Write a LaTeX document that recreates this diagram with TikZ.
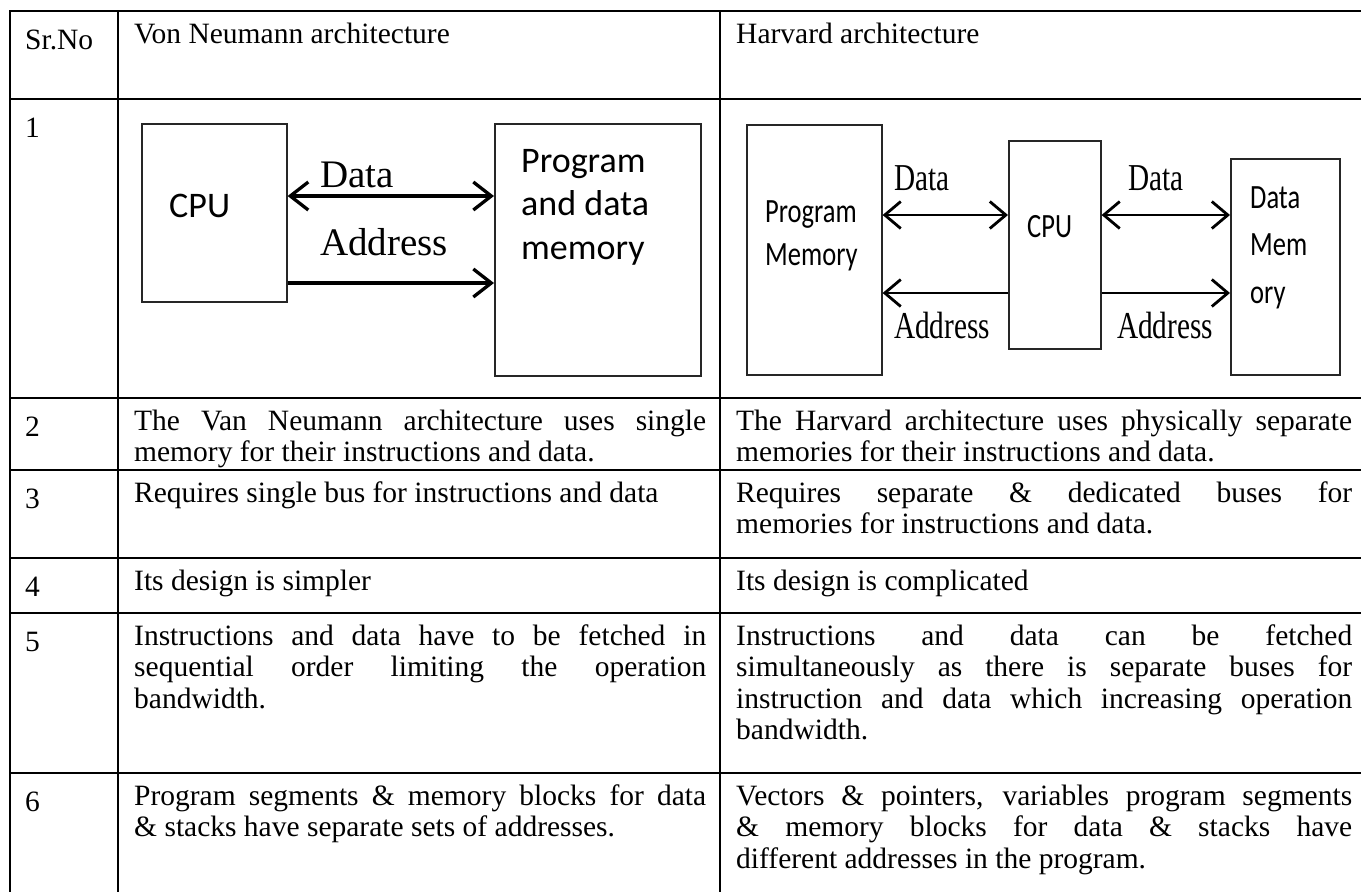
\documentclass[tikz,border=0pt]{standalone}
\usepackage{fontspec}
\setmainfont{Liberation Serif}
\newfontfamily\labelserif{Liberation Serif}
\newfontfamily\narrowserif{Liberation Serif}[FakeStretch=0.77]
\newfontfamily\boxsans{Carlito}
\newfontfamily\narrowsans{Carlito}[FakeStretch=0.78]
\usetikzlibrary{arrows.meta,positioning}

\newcommand\cellfont{\fontsize{29.5}{31.5}\selectfont}
\tolerance=10000
\hbadness=10000
\hyphenpenalty=10000

\tikzset{
  rule/.style={line width=2.4pt, line cap=rect},
  num/.style={anchor=base west, inner sep=0pt, font=\cellfont},
  cell/.style={anchor=base west, inner sep=0pt, font=\cellfont,
    text width=#1, align=justify},
  unit/.style={draw=black!85, line width=1.6pt, inner sep=0pt,
    anchor=north west},
  vbus/.style={line width=3.3pt, >={Straight Barb[length=18pt,width=28pt]}},
  hbus/.style={line width=2.8pt, >={Straight Barb[length=16pt,width=27pt]}},
  vnword/.style={anchor=base west, inner sep=0pt,
    font=\labelserif\fontsize{39}{44}\selectfont},
  hvword/.style={anchor=base west, inner sep=0pt,
    font=\narrowserif\fontsize{38}{44}\selectfont},
  vnbox/.style={anchor=base west, inner sep=0pt, align=left,
    font=\boxsans\fontsize{36}{43.5}\selectfont},
  hvbox/.style={anchor=base west, inner sep=0pt, align=left,
    font=\narrowsans\fontsize{34}{#1}\selectfont},
}

\begin{document}
\begin{tikzpicture}[x=1pt,y=-1pt]
  \useasboundingbox (0,0) rectangle (1361,892);

  % table rules
  \foreach \y in {11,99,398,470,558,613,773}
    \draw[rule] (10,\y) -- (1361,\y);
  \foreach \x in {10,118,720}
    \draw[rule] (\x,11) -- (\x,892);

  % header
  \node[num] (srno) at (25,49) {Sr.No};
  \node[num] (vnhead) at (134,43) {Von Neumann architecture};
  \node[num] (hvhead) at (736,43) {Harvard architecture};

  % serial numbers
  \node[num] (n1) at (25,137) {1};
  \node[num] (n2) at (25,436) {2};
  \node[num] (n3) at (25,508) {3};
  \node[num] (n4) at (25,596) {4};
  \node[num] (n5) at (25,651) {5};
  \node[num] (n6) at (25,811) {6};

  % von neumann diagram (multi-line labels sit on their last baseline)
  \node[unit, minimum width=145pt, minimum height=178pt] (vncpu) at (141,123) {};
  \node[unit, minimum width=206pt, minimum height=252pt] (vnmem) at (494,123) {};
  \node[vnbox] (vncputxt) at (169,217) {CPU};
  \node[vnbox] (vnmemtxt) at (521,259) {Program\\and data\\memory};
  \coordinate (vndata) at (0,196);
  \coordinate (vnaddr) at (0,283);
  \draw[vbus,<->] (vncpu.east |- vndata) -- (vnmem.west |- vndata);
  \draw[vbus,->] (vncpu.east |- vnaddr) -- (vnmem.west |- vnaddr);
  \node[vnword] (vndatatxt) at (320,187) {Data};
  \node[vnword] (vnaddrtxt) at (320,255) {Address};

  % harvard diagram
  \node[unit, minimum width=135pt, minimum height=250pt] (hvprog) at (746,124) {};
  \node[unit, minimum width=92pt, minimum height=208pt] (hvcpu) at (1008,140) {};
  \node[unit, minimum width=109pt, minimum height=216pt] (hvdata) at (1230,158) {};
  \node[hvbox=43] (hvprogtxt) at (765,265) {Program\\Memory};
  \node[hvbox=43] (hvcputxt) at (1027,237) {CPU};
  \node[hvbox=47.5] (hvdatatxt) at (1250,303) {Data\\Mem\\ory};
  \coordinate (hvdatay) at (0,215);
  \coordinate (hvaddry) at (0,293);
  \draw[hbus,<->] (hvprog.east |- hvdatay) -- (hvcpu.west |- hvdatay);
  \draw[hbus,->] (hvcpu.west |- hvaddry) -- (hvprog.east |- hvaddry);
  \draw[hbus,<->] (hvcpu.east |- hvdatay) -- (hvdata.west |- hvdatay);
  \draw[hbus,->] (hvcpu.east |- hvaddry) -- (hvdata.west |- hvaddry);
  \node[hvword] (hvdata1) at (894,190) {Data};
  \node[hvword] (hvaddr1) at (894,338) {Address};
  \node[hvword] (hvdata2) at (1128,190) {Data};
  \node[hvword] (hvaddr2) at (1117,338) {Address};

  % comparison rows
  \node[cell=572pt] (vn2) at (134,430)
    {The Van Neumann architecture uses single\linebreak memory for their instructions and data.};
  \node[cell=616pt] (hv2) at (736,430)
    {The Harvard architecture uses physically separate\linebreak memories for their instructions and data.};
  \node[cell=572pt] (vn3) at (134,502)
    {Requires single bus for instructions and data};
  \node[cell=616pt] (hv3) at (736,502)
    {Requires separate \& dedicated buses for\linebreak memories for instructions and data.};
  \node[cell=572pt] (vn4) at (134,590) {Its design is simpler};
  \node[cell=616pt] (hv4) at (736,590) {Its design is complicated};
  \node[cell=572pt] (vn5) at (134,645)
    {Instructions and data have to be fetched in\linebreak sequential order limiting the operation\linebreak bandwidth.};
  \node[cell=616pt] (hv5) at (736,645)
    {Instructions and data can be fetched\linebreak simultaneously as there is separate buses for\linebreak instruction and data which increasing operation\linebreak bandwidth.};
  \node[cell=572pt] (vn6) at (134,805)
    {Program segments \& memory blocks for data\linebreak \& stacks have separate sets of addresses.};
  \node[cell=616pt] (hv6) at (736,805)
    {Vectors \& pointers, variables program segments\linebreak \& memory blocks for data \& stacks have\linebreak different addresses in the program.};
\end{tikzpicture}
\end{document}
